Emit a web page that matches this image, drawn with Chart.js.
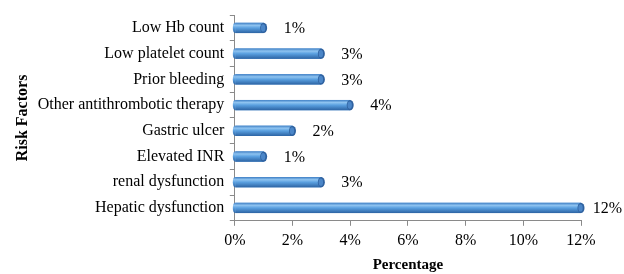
<!DOCTYPE html>
<html>
<head>
<meta charset="utf-8">
<script src="https://cdn.jsdelivr.net/npm/chart.js@4/dist/chart.umd.min.js"></script>
<style>
  html, body { margin: 0; padding: 0; background: #fff; }
  #wrap { width: 624px; height: 274px; }
</style>
</head>
<body>
<div id="wrap"><canvas id="chart"></canvas></div>
<script>
const categories = [
  "Low Hb count",
  "Low platelet count",
  "Prior bleeding",
  "Other antithrombotic therapy",
  "Gastric ulcer",
  "Elevated INR",
  "renal dysfunction",
  "Hepatic dysfunction"
];
const percentages = [1, 3, 3, 4, 2, 1, 3, 12];
const xTicks = [0, 2, 4, 6, 8, 10, 12];

const serif = "'Liberation Serif', 'Times New Roman', serif";

// paints the cylinder look over each bar, from the bar element geometry
const cylinderBars = {
  id: "cylinderBars",
  afterDatasetsDraw(chart) {
    const ctx = chart.ctx;
    chart.getDatasetMeta(0).data.forEach(el => {
      const h = el.height;
      const top = el.y - h / 2;
      const left = el.base;
      const right = el.x;
      const g = ctx.createLinearGradient(0, top, 0, top + h);
      g.addColorStop(0, "#3f7fc4");
      g.addColorStop(0.25, "#8ec3f0");
      g.addColorStop(0.5, "#5aa0e0");
      g.addColorStop(1, "#2c63a3");
      ctx.save();
      ctx.fillStyle = g;
      ctx.fillRect(left, top, right - left, h);
      ctx.beginPath();
      ctx.ellipse(left, el.y, 2.5, h / 2, 0, Math.PI / 2, Math.PI * 1.5);
      ctx.fill();
      // end cap
      ctx.beginPath();
      ctx.ellipse(right, el.y, 3.5, h / 2, 0, 0, Math.PI * 2);
      ctx.fillStyle = "#2f62a0";
      ctx.fill();
      ctx.beginPath();
      ctx.ellipse(right - 0.5, el.y, 2.2, h / 2 - 1.5, 0, 0, Math.PI * 2);
      ctx.fillStyle = "#4b86c8";
      ctx.fill();
      ctx.restore();
    });
  }
};

// value labels right of each bar
const valueLabels = {
  id: "valueLabels",
  afterDatasetsDraw(chart) {
    const ctx = chart.ctx;
    ctx.save();
    ctx.font = "16px " + serif;
    ctx.fillStyle = "#000";
    ctx.textBaseline = "middle";
    chart.getDatasetMeta(0).data.forEach((el, i) => {
      const txt = percentages[i] + "%";
      const w = ctx.measureText(txt).width;
      let x = el.x + 20;
      if (x + w > chart.width - 2) x = chart.width - 2 - w;
      ctx.fillText(txt, x, el.y + 1);
    });
    ctx.restore();
  }
};

new Chart(document.getElementById("chart"), {
  type: "bar",
  data: {
    labels: categories,
    datasets: [{
      data: percentages,
      backgroundColor: "#4a8fd6",
      barPercentage: 0.4,
      categoryPercentage: 1
    }]
  },
  plugins: [cylinderBars, valueLabels],
  options: {
    indexAxis: "y",
    responsive: true,
    maintainAspectRatio: false,
    animation: false,
    layout: { padding: { top: 15, right: 43, bottom: 0, left: 13 } },
    plugins: {
      legend: { display: false },
      tooltip: { enabled: false }
    },
    scales: {
      x: {
        min: 0,
        max: 12,
        afterBuildTicks: axis => { axis.ticks = xTicks.map(v => ({ value: v })); },
        ticks: {
          callback: v => v + "%",
          color: "#000",
          font: { family: serif, size: 16 },
          padding: 5
        },
        grid: { drawOnChartArea: false, tickLength: 5, color: "#8a8a8a" },
        border: { color: "#8a8a8a" },
        title: {
          display: true,
          text: "Percentage",
          color: "#000",
          font: { family: serif, size: 15, weight: "bold" },
          padding: { top: 1, bottom: 0 }
        }
      },
      y: {
        ticks: {
          color: "#000",
          font: { family: serif, size: 16 },
          padding: 5.5
        },
        grid: { drawOnChartArea: false, tickLength: 5, color: "#8a8a8a", offset: true },
        border: { color: "#8a8a8a" },
        title: {
          display: true,
          text: "Risk Factors",
          color: "#000",
          font: { family: serif, size: 16, weight: "bold" },
          padding: { top: 0, bottom: 0 }
        }
      }
    }
  }
});
</script>
</body>
</html>
